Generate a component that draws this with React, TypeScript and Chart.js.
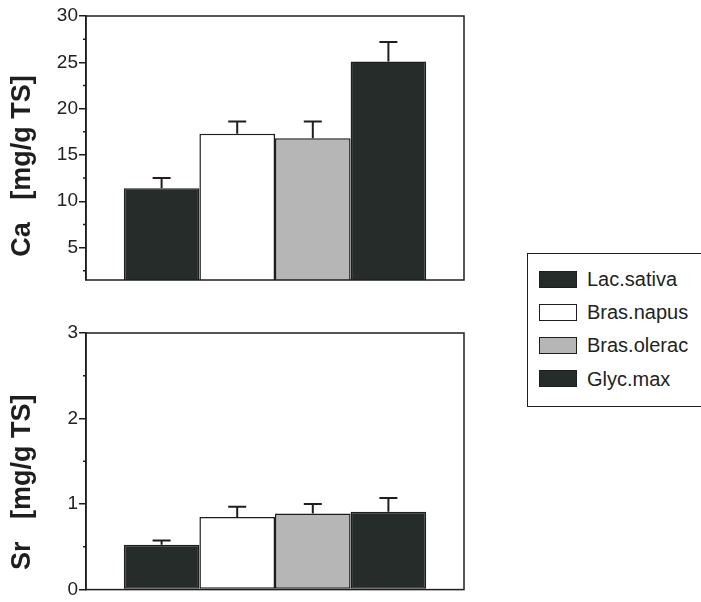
import React, { useEffect, useRef } from "react";
import { Chart, registerables } from "chart.js";

Chart.register(...registerables);

const species = ["Lac.sativa", "Bras.napus", "Bras.olerac", "Glyc.max"];
const speciesColors = ["#262c29", "#ffffff", "#b6b6b6", "#262c29"];

const caValues = [11.4, 17.3, 16.8, 25.1];
const caErrors = [1.1, 1.3, 1.8, 2.1];
const srValues = [0.525, 0.85, 0.89, 0.91];
const srErrors = [0.05, 0.12, 0.11, 0.16];

const caMajorTicks = [5, 10, 15, 20, 25, 30];
const caMinorTicks = [2.5, 7.5, 12.5, 17.5, 22.5, 27.5];
const srMajorTicks = [0, 1, 2, 3];
const srMinorTicks = [0.5, 1.5, 2.5];

const caRange = [1.5, 30];
const srRange = [0, 3];

const caTitle = "Ca   [mg/g TS]";
const srTitle = "Sr   [mg/g TS]";

const FONT = "'Liberation Sans', Arial, sans-serif";
const INK = "#1e1e1e";

type PanelProps = {
  values: number[];
  errors: number[];
  major: number[];
  minor: number[];
  range: number[];
  title: string;
  titleOffset: number;
  top: number;
  height: number;
  padTop: number;
  padBottom: number;
};

function Panel(p: PanelProps) {
  const ref = useRef<HTMLCanvasElement | null>(null);
  useEffect(() => {
    if (!ref.current) return;
    const decor = {
      id: "panelDecor",
      afterDatasetsDraw(chart: any) {
        const ctx = chart.ctx;
        const y = chart.scales.y;
        const area = chart.chartArea;
        ctx.save();
        // error bars
        ctx.strokeStyle = INK;
        ctx.lineWidth = 2;
        chart.data.datasets.forEach((ds: any, i: number) => {
          const el = chart.getDatasetMeta(i).data[0];
          if (!el) return;
          const v = ds.data[0];
          const top = y.getPixelForValue(v + p.errors[i]);
          ctx.beginPath();
          ctx.moveTo(el.x, el.y);
          ctx.lineTo(el.x, top);
          ctx.moveTo(el.x - 9, top);
          ctx.lineTo(el.x + 9, top);
          ctx.stroke();
        });
        // frame
        ctx.lineWidth = 1.5;
        ctx.strokeRect(area.left, area.top, area.right - area.left, area.bottom - area.top);
        // minor ticks
        ctx.beginPath();
        p.minor.forEach((m) => {
          const py = y.getPixelForValue(m);
          ctx.moveTo(area.left - 3, py);
          ctx.lineTo(area.left, py);
        });
        ctx.stroke();
        // axis title
        ctx.translate(30, (area.top + area.bottom) / 2 + p.titleOffset);
        ctx.rotate(-Math.PI / 2);
        ctx.fillStyle = INK;
        ctx.font = `bold 27px ${FONT}`;
        ctx.textAlign = "center";
        ctx.textBaseline = "alphabetic";
        ctx.fillText(p.title, 0, 0);
        ctx.restore();
      },
    };
    const chart = new Chart(ref.current, {
      type: "bar",
      data: {
        labels: [""],
        datasets: species.map((s, i) => ({
          label: s,
          data: [p.values[i]],
          backgroundColor: speciesColors[i],
          borderColor: INK,
          borderWidth: 1.5,
          borderSkipped: false,
        })),
      },
      options: {
        responsive: false,
        animation: false,
        events: [],
        layout: { padding: { left: 0, right: 16, top: p.padTop, bottom: p.padBottom } },
        datasets: { bar: { categoryPercentage: 0.8, barPercentage: 1.0 } },
        plugins: { legend: { display: false }, tooltip: { enabled: false } },
        scales: {
          x: { display: false },
          y: {
            min: p.range[0],
            max: p.range[1],
            afterBuildTicks: (s: any) => {
              s.ticks = p.major.map((v) => ({ value: v }));
            },
            afterFit: (s: any) => {
              s.width = 86;
            },
            grid: {
              display: true,
              drawOnChartArea: false,
              drawTicks: true,
              tickLength: 7,
              tickColor: INK,
              lineWidth: 1.5,
            },
            border: { display: true, color: INK, width: 1.5 },
            ticks: {
              padding: 1,
              color: "#222",
              font: { family: FONT, size: 19 },
              callback: (v: any) => String(v),
            },
          },
        },
      },
      plugins: [decor],
    } as any);
    return () => chart.destroy();
  }, []);
  return (
    <canvas
      ref={ref}
      width={480}
      height={p.height}
      style={{ position: "absolute", left: 0, top: p.top, width: 480, height: p.height }}
    />
  );
}

export default function App() {
  return (
    <div
      style={{
        position: "fixed",
        left: 0,
        top: 0,
        width: 701,
        height: 602,
        background: "#ffffff",
        overflow: "hidden",
        fontFamily: FONT,
      }}
    >
      <Panel
        values={caValues}
        errors={caErrors}
        major={caMajorTicks}
        minor={caMinorTicks}
        range={caRange}
        title={caTitle}
        titleOffset={18}
        top={0}
        height={300}
        padTop={16}
        padBottom={20}
      />
      <Panel
        values={srValues}
        errors={srErrors}
        major={srMajorTicks}
        minor={srMinorTicks}
        range={srRange}
        title={srTitle}
        titleOffset={21}
        top={300}
        height={302}
        padTop={33}
        padBottom={6}
      />
      <div
        style={{
          position: "absolute",
          left: 527,
          top: 253,
          width: 190,
          height: 152,
          border: `1.5px solid ${INK}`,
        }}
      >
        {species.map((s, i) => (
          <div
            key={s}
            style={{
              position: "absolute",
              left: 11,
              top: 16 + i * 33.2,
              height: 18,
              display: "flex",
              alignItems: "center",
            }}
          >
            <div
              style={{
                width: 36,
                height: 15,
                background: speciesColors[i],
                border: `1.5px solid ${INK}`,
              }}
            />
            <span
              style={{
                marginLeft: 10,
                fontSize: 20,
                color: "#222",
                whiteSpace: "nowrap",
                lineHeight: "18px",
              }}
            >
              {s}
            </span>
          </div>
        ))}
      </div>
    </div>
  );
}
